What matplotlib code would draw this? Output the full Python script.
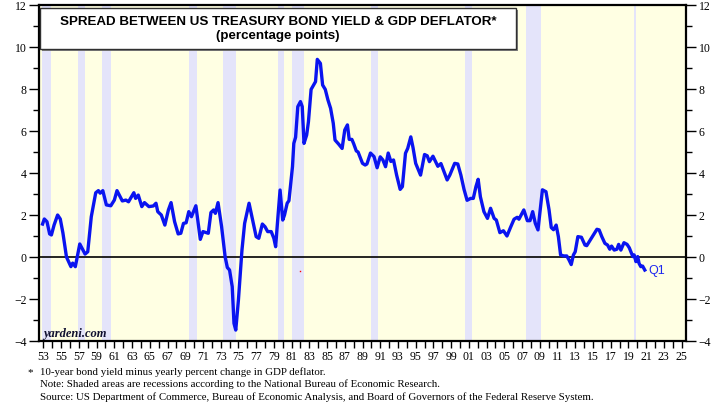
import numpy as np
import matplotlib.pyplot as plt
from matplotlib.patches import Rectangle

# quarterly-ish readings of the spread (10y yield minus GDP deflator y/y)
years = [
    1953.4, 1953.6, 1953.9, 1954.2, 1954.4, 1954.7, 1955.1, 1955.4, 1955.7, 1956.1,
    1956.6, 1956.8, 1957.1, 1957.6, 1958.2, 1958.5, 1958.9, 1959.4, 1959.7, 1959.9,
    1960.2, 1960.6, 1961.1, 1961.5, 1961.8, 1962.4, 1962.8, 1963.1, 1963.7, 1963.9,
    1964.2, 1964.6, 1964.9, 1965.4, 1965.9, 1966.2, 1966.4, 1966.8, 1967.2, 1967.6,
    1967.9, 1968.3, 1968.7, 1969.0, 1969.3, 1969.6, 1969.9, 1970.2, 1970.7, 1971.2,
    1971.5, 1972.1, 1972.4, 1972.7, 1972.9, 1973.2, 1973.6, 1974.0, 1974.25, 1974.5,
    1974.8, 1975.0, 1975.2, 1975.5, 1975.9, 1976.2, 1976.7, 1977.1, 1977.5, 1977.8,
    1978.2, 1978.5, 1978.8, 1979.2, 1979.5, 1979.7, 1979.9, 1980.2, 1980.5, 1980.7,
    1981.0, 1981.2, 1981.6, 1981.75, 1981.95, 1982.2, 1982.5, 1982.7, 1982.9, 1983.2,
    1983.4, 1983.7, 1984.2, 1984.4, 1984.75, 1985.0, 1985.3, 1985.6, 1985.9, 1986.2,
    1986.4, 1986.8, 1987.2, 1987.5, 1987.8, 1988.0, 1988.3, 1988.5, 1988.8, 1989.0,
    1989.5, 1989.8, 1990.0, 1990.4, 1990.8, 1991.15, 1991.5, 1991.8, 1992.1, 1992.4,
    1992.7, 1993.0, 1993.35, 1993.75, 1994.0, 1994.35, 1994.6, 1994.95, 1995.2, 1995.5,
    1996.05, 1996.5, 1996.8, 1997.05, 1997.45, 1997.8, 1998.0, 1998.35, 1999.05, 1999.35,
    1999.9, 2000.25, 2000.6, 2000.95, 2001.3, 2001.7, 2002.0, 2002.3, 2002.55, 2002.8,
    2003.2, 2003.6, 2003.95, 2004.35, 2004.6, 2005.0, 2005.4, 2005.8, 2006.2, 2006.6,
    2006.95, 2007.15, 2007.7, 2008.1, 2008.4, 2008.7, 2009.0, 2009.3, 2009.55, 2009.8,
    2010.2, 2010.55, 2010.8, 2011.05, 2011.35, 2011.6, 2011.85, 2012.2, 2012.55, 2012.8,
    2013.05, 2013.3, 2013.5, 2013.8, 2014.2, 2014.6, 2014.8, 2015.2, 2015.45, 2015.95,
    2016.2, 2016.5, 2016.85, 2017.15, 2017.4, 2017.6, 2017.9, 2018.2, 2018.4, 2018.65,
    2019.0, 2019.35, 2019.6, 2020.0, 2020.15, 2020.35, 2020.55, 2020.7, 2020.9, 2021.1,
    2021.35,
]
spread = [
    1.57, 1.81, 1.68, 1.10, 1.05, 1.52, 2.00, 1.81, 1.14, 0.00,
    -0.46, -0.29, -0.46, 0.62, 0.14, 0.25, 1.92, 3.06, 3.16, 3.04,
    3.16, 2.48, 2.44, 2.71, 3.16, 2.67, 2.71, 2.63, 3.06, 2.79,
    2.95, 2.40, 2.59, 2.40, 2.43, 2.56, 2.16, 2.00, 1.52, 2.24,
    2.59, 1.68, 1.10, 1.13, 1.60, 1.63, 2.16, 1.92, 2.44, 0.84,
    1.21, 1.13, 2.12, 2.24, 2.08, 2.59, 1.45, 0.01, -0.50, -0.62,
    -1.41, -3.16, -3.48, -2.05, 0.33, 1.60, 2.56, 1.76, 0.97, 0.89,
    1.57, 1.44, 1.21, 1.21, 0.89, 0.49, 1.60, 3.19, 1.76, 2.00,
    2.56, 2.68, 4.30, 5.41, 5.70, 7.16, 7.40, 7.16, 5.41, 5.81,
    6.44, 7.98, 8.35, 9.41, 9.22, 8.19, 7.98, 7.48, 7.08, 6.37,
    5.57, 5.38, 5.17, 6.05, 6.29, 5.60, 5.60, 5.40, 5.05, 5.00,
    4.46, 4.38, 4.43, 4.95, 4.78, 4.25, 4.77, 4.62, 4.30, 4.95,
    4.55, 4.62, 3.90, 3.22, 3.35, 4.94, 5.17, 5.72, 5.21, 4.46,
    3.90, 4.88, 4.82, 4.54, 4.80, 4.50, 4.32, 4.45, 3.67, 3.90,
    4.46, 4.43, 3.90, 3.23, 2.70, 2.79, 2.79, 3.35, 3.70, 2.87,
    2.16, 1.84, 2.32, 1.84, 1.76, 1.16, 1.25, 1.00, 1.41, 1.80,
    1.89, 1.80, 2.24, 1.73, 1.73, 2.16, 1.60, 1.29, 2.24, 3.20,
    3.11, 2.24, 1.40, 1.30, 1.52, 0.97, 0.10, 0.05, 0.05, -0.14,
    -0.36, 0.10, 0.25, 0.97, 0.94, 0.57, 0.54, 0.81, 0.97, 1.32,
    1.29, 0.97, 0.65, 0.57, 0.37, 0.52, 0.33, 0.37, 0.60, 0.33,
    0.68, 0.60, 0.44, 0.02, 0.10, -0.22, 0.02, -0.30, -0.46, -0.43,
    -0.62,
]

# NBER recessions as shaded on the chart
recessions = [
    (1953.3, 1954.4), (1957.45, 1958.2), (1960.1, 1961.1), (1969.9, 1970.85),
    (1973.8, 1975.25), (1979.95, 1980.6), (1981.5, 1982.95), (1990.5, 1991.3),
    (2001.1, 2001.9), (2007.9, 2009.6), (2020.15, 2020.4),
]

year_labels = list(range(1953, 2026, 2))
y_major = list(range(-4, 13, 2))
y_minor = list(range(-3, 12, 2))

fig = plt.figure(figsize=(7.12, 4.11), dpi=100)
ax = fig.add_axes([39 / 712, 70 / 411, 647 / 712, 336 / 411])
ax.set_facecolor('#FFFFE3')

for start, end in recessions:
    ax.axvspan(start, end, color='#E4E4FA', lw=0, zorder=1)

ax.axhline(0, color='black', lw=1.2, zorder=2)
ax.plot(years, spread, color='#0A14F0', lw=2.4, solid_joinstyle='round', zorder=3)

# stray red dot in the original
ax.plot([1982.5], [-0.68], marker='s', ms=1.0, color='red', mew=0, zorder=3)

ax.text(2021.7, -0.65, 'Q1', color='#1E28F0', fontsize=9, fontfamily='Liberation Sans',
        va='center', ha='left', zorder=4)

ax.set_xlim(1953, 2026)
ax.set_ylim(-4, 12)

ax.set_xticks([y + 0.5 for y in year_labels])
ax.set_xticklabels([f'{y % 100:02d}' for y in year_labels])
ax.set_xticks([y + 0.5 for y in range(1953, 2026)], minor=True)
ax.set_yticks(y_major)
ax.set_yticks(y_minor, minor=True)

ax.tick_params(axis='x', which='both', direction='out', length=5, width=1,
               labelsize=8.5, pad=2)
ax.tick_params(axis='y', which='major', direction='out', length=7, width=1,
               labelsize=8.5, right=True, labelright=True, pad=2)
ax.tick_params(axis='y', which='minor', direction='out', length=4, width=1, right=True)
for lab in ax.get_xticklabels() + ax.get_yticklabels(which='both') + ax.yaxis.get_ticklabels(minor=False):
    lab.set_family('Liberation Serif')
for t in ax.yaxis.get_major_ticks():
    t.label2.set_family('Liberation Serif')

for sp in ax.spines.values():
    sp.set_linewidth(1.6)

# title box
shadow = Rectangle((42 / 712, 1 - 51 / 411), 476 / 712, 41 / 411, transform=fig.transFigure,
                   facecolor='#808080', edgecolor='none', zorder=5)
box = Rectangle((40 / 712, 1 - 49 / 411), 476 / 712, 41 / 411, transform=fig.transFigure,
                facecolor='white', edgecolor='#303030', lw=1.0, zorder=6)
fig.patches.extend([shadow, box])
fig.text(278 / 712, 1 - 22 / 411, 'SPREAD BETWEEN US TREASURY BOND YIELD & GDP DEFLATOR*',
         ha='center', va='center', fontsize=9.6, fontweight='bold', family='Liberation Sans',
         zorder=7)
fig.text(278 / 712, 1 - 36 / 411, '(percentage points)', ha='center', va='center',
         fontsize=9.6, fontweight='bold', family='Liberation Sans', zorder=7)

ax.text(0.006, 0.022, 'yardeni.com', transform=ax.transAxes, fontsize=9, fontweight='bold',
        fontstyle='italic', family='Liberation Serif', color='#101030', va='center', zorder=4)

notes = [
    '10-year bond yield minus yearly percent change in GDP deflator.',
    'Note: Shaded areas are recessions according to the National Bureau of Economic Research.',
    'Source: US Department of Commerce, Bureau of Economic Analysis, and Board of Governors of the Federal Reserve System.',
]
fig.text(27 / 712, 1 - 373 / 411, '*', fontsize=8, family='Liberation Serif', va='center')
for i, line in enumerate(notes):
    fig.text(40 / 712, 1 - (372 + 12.5 * i) / 411, line, fontsize=7.8,
             family='Liberation Serif', va='center')

fig.savefig('out.png', dpi=100)
